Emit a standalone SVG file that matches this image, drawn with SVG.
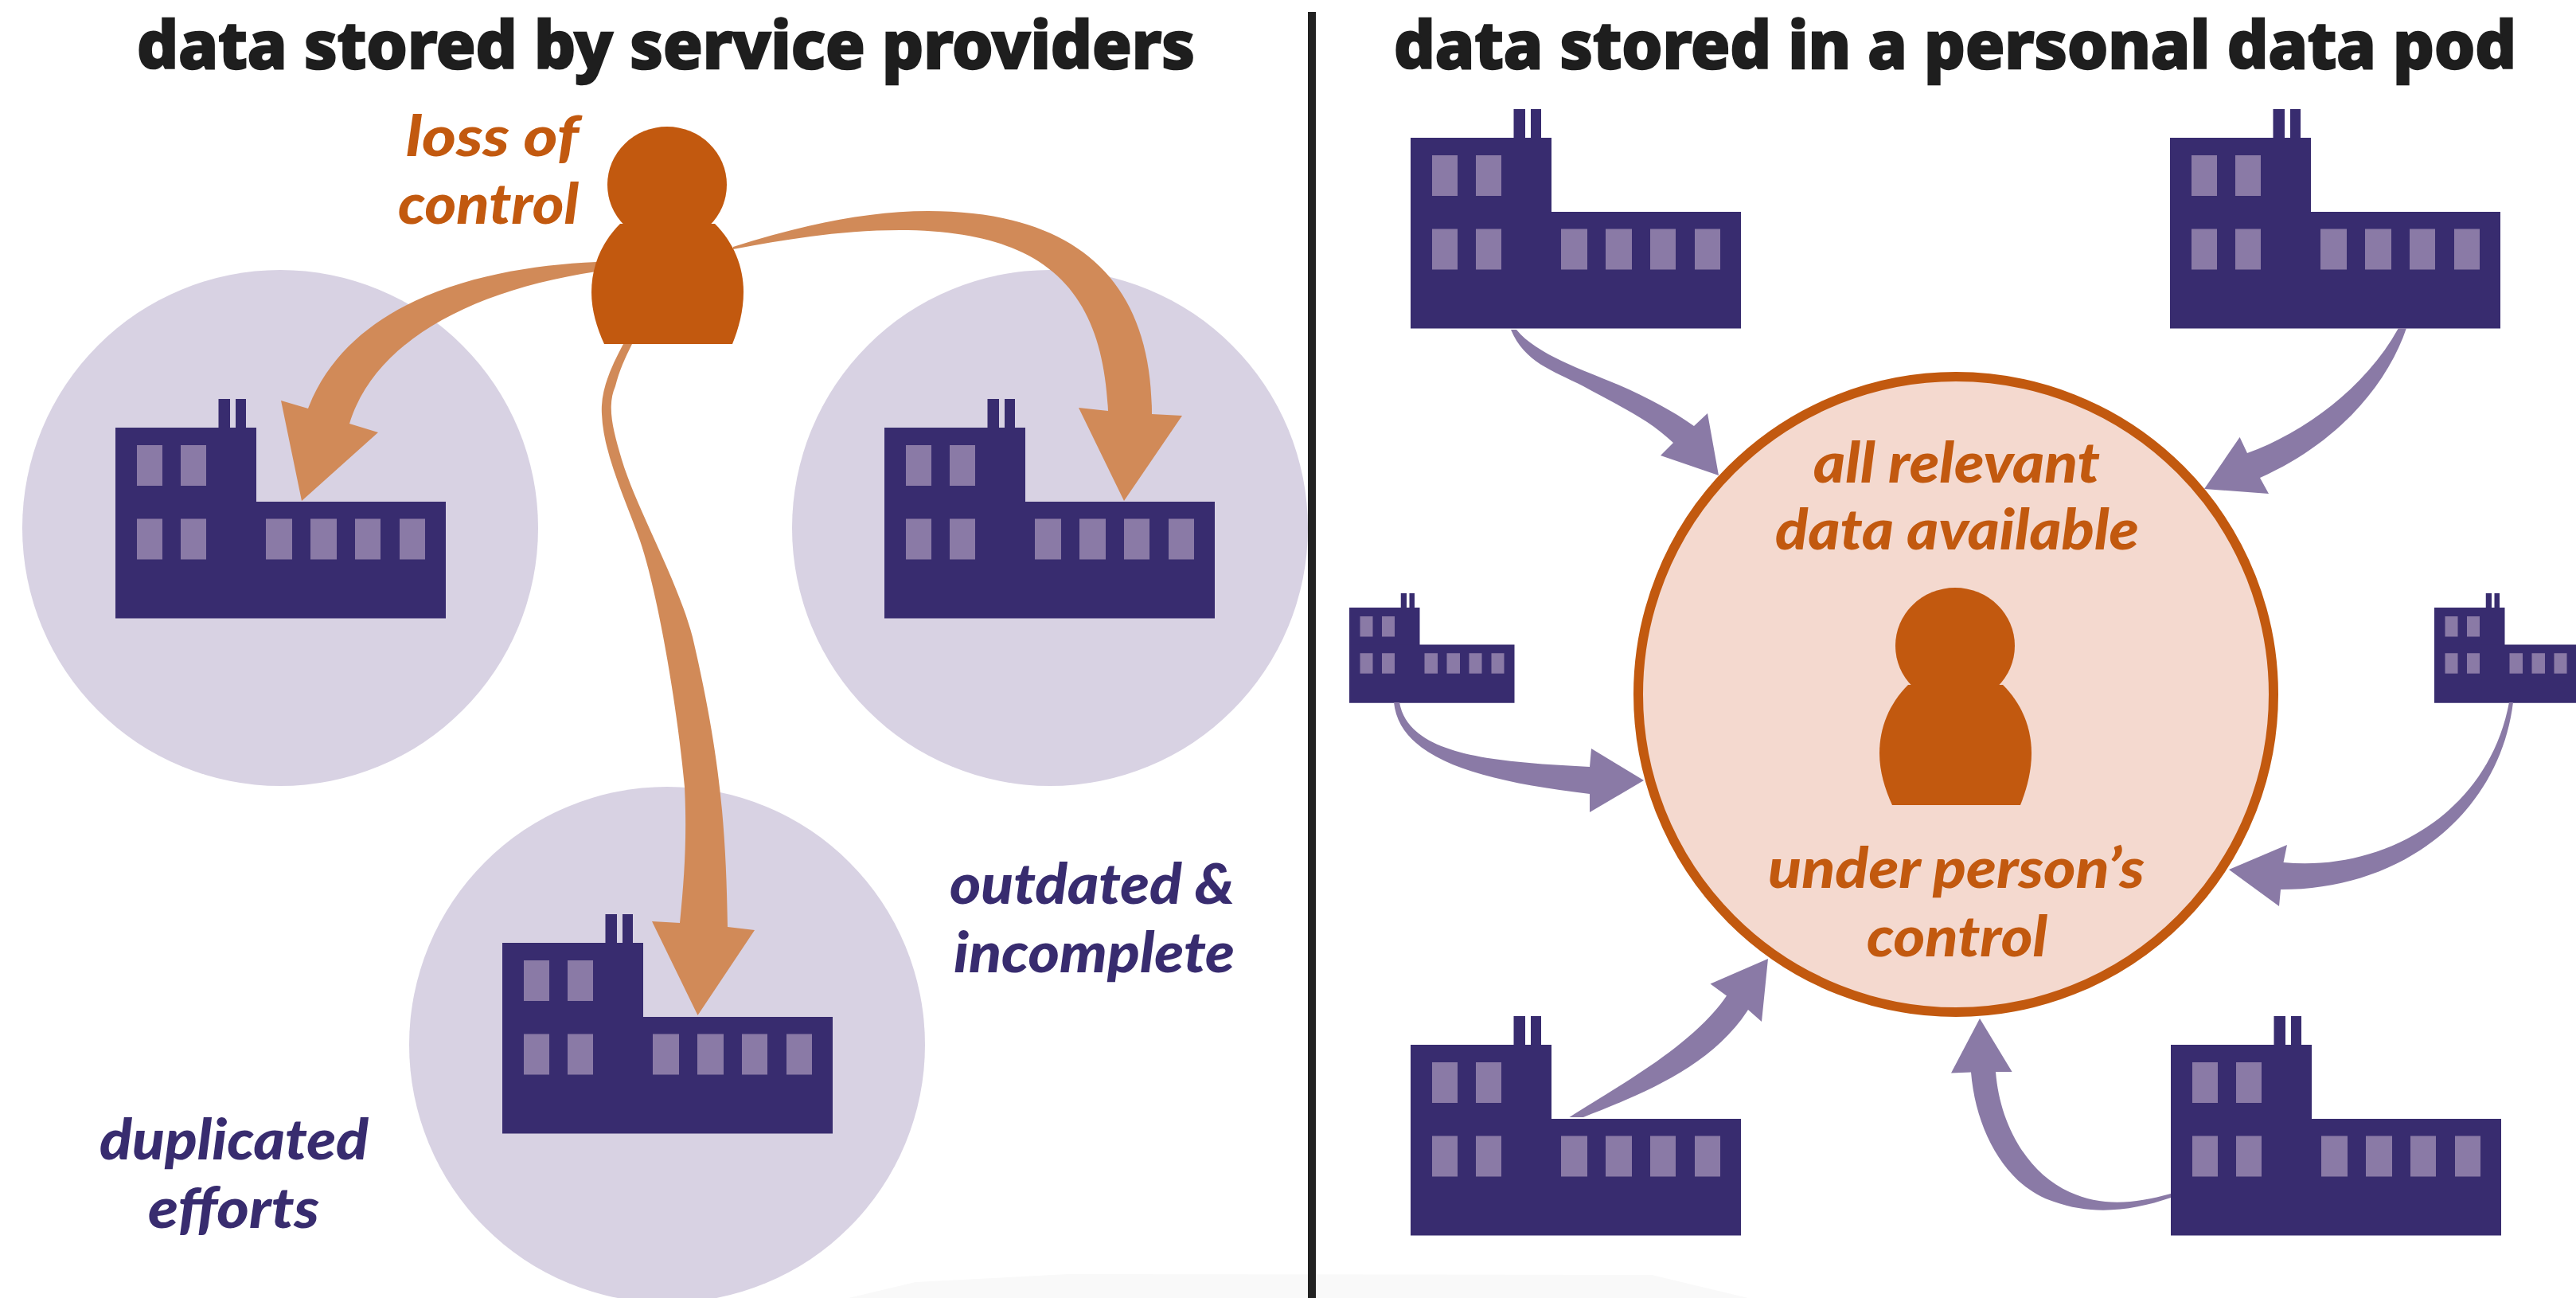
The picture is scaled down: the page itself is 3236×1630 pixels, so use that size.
<svg xmlns="http://www.w3.org/2000/svg" width="3236" height="1630" viewBox="0 0 3236 1630">
<style>
.title{font-family:"Noto Sans","Open Sans","Liberation Sans",sans-serif;font-weight:800;font-size:82px;fill:#1e1e1e;stroke:#1e1e1e;stroke-width:2.500px}
.lab{font-family:Lato,"Noto Sans","Liberation Sans",sans-serif;font-weight:900;font-style:italic;font-size:71px}
.or{fill:#c2590f}.pu{fill:#382c6f}
.halo{fill:#d8d2e3}
.oa{fill:#d18a58}.pa{fill:#8a7aa6}
.b{fill:#382c6f}.w{fill:#8a7aa6}
</style>
<defs>
<g id="factory">
<rect class="b" x="129.5" y="0" width="14.5" height="37"/>
<rect class="b" x="151" y="0" width="13" height="37"/>
<rect class="b" x="0" y="36" width="177" height="100"/>
<rect class="b" x="0" y="129" width="415" height="146.500"/>
<rect class="w" x="27" y="58" width="32" height="51"/>
<rect class="w" x="82" y="58" width="32" height="51"/>
<rect class="w" x="27" y="150.500" width="32" height="51"/>
<rect class="w" x="82" y="150.500" width="32" height="51"/>
<rect class="w" x="189" y="150.500" width="33" height="51"/>
<rect class="w" x="245" y="150.500" width="33" height="51"/>
<rect class="w" x="301" y="150.500" width="32" height="51"/>
<rect class="w" x="357" y="150.500" width="32" height="51"/>
</g>
<g id="person">
<ellipse class="or" cx="0" cy="73" rx="75" ry="73"/>
<path class="or" d="M-59,122 C-83,146 -95,176 -95,208 C-95,231 -88,253 -79,273 L82,273 C90,253 96,231 96,208 C96,176 84,146 60,122Z"/>
</g>
</defs>
<rect width="3236" height="1630" fill="#fff"/>
<path id="bottom-patch" d="M1066,1630 L1150,1610 L1342,1600 L2075,1601 L2196,1630Z" fill="#f9f9f9"/>
<rect id="divider" x="1643" y="15" width="10" height="1615" fill="#222"/>
<g id="title-left"><text class="title" x="172" y="86" textLength="1329" lengthAdjust="spacingAndGlyphs">data stored by service providers</text></g>
<g id="title-right"><text class="title" x="1751" y="86" textLength="1410" lengthAdjust="spacingAndGlyphs">data stored in a personal data pod</text></g>
<g id="provider-1"><circle class="halo" cx="352" cy="663" r="324"/><use href="#factory" transform="translate(145,501)"/></g>
<g id="provider-2"><circle class="halo" cx="1319" cy="663" r="324"/><use href="#factory" transform="translate(1111,501)"/></g>
<g id="provider-3"><circle class="halo" cx="838" cy="1312" r="324"/><use href="#factory" transform="translate(631,1148)"/></g>
<g id="pod"><circle cx="2457" cy="872" r="399" fill="#f4d9cf" stroke="#c2590f" stroke-width="12"/></g>
<g id="source-1"><use href="#factory" transform="translate(1772,137)"/></g>
<g id="source-2"><use href="#factory" transform="translate(2726,137)"/></g>
<g id="source-3"><use href="#factory" transform="translate(1695,745) scale(.5)"/></g>
<g id="source-4"><use href="#factory" transform="translate(3058,745) scale(.5)"/></g>
<g id="source-5"><use href="#factory" transform="translate(1772,1276)"/></g>
<g id="source-6"><use href="#factory" transform="translate(2727,1276)"/></g>
<g id="connectors">
<path class="oa" d="M921,310 C1010,282 1090,265 1166,265 C1350,265 1447,350 1447,520 L1485,522 L1412,629 L1355,512 L1392,516 C1385,370 1320,289 1130,289 C1060,289 990,300 921,313Z"/>
<path class="oa" d="M749,329 C610,335 440,375 387,513 L353,503 L379,629 L475,543 L439,532 C470,430 590,365 749,341Z"/>
<path class="oa" d="M783,432 C768,460 754,490 756,520 C758,570 785,625 804,679 C825,740 850,880 860,988 C863,1050 860,1100 854,1159 L819,1157 L876.500,1275 L948,1168 L914,1164 C912,1040 905,950 870,800 C850,725 800,640 781,577 C770,540 762,510 773,485 C778,465 785,450 794,432Z"/>
<path class="pa" d="M1905,414 C1930,445 1990,465 2030,482 C2065,497 2100,515 2128,535 L2145,519 L2159,597 L2086,572 L2102,556 C2070,525 2030,508 1989,485 C1950,465 1915,455 1898,414Z"/>
<path class="pa" d="M3023,412 C3000,480 2940,555 2839,600 L2850,620 L2769,614 L2813.600,549 L2823,569 C2890,545 2970,490 3013,412Z"/>
<path class="pa" d="M1751,882 C1758,950 1850,980 1997,997 L1997,1020 L2065,980 L1999,940 L1997,963 C1880,957 1770,950 1758,882Z"/>
<path class="pa" d="M3157,882 C3140,1020 3020,1117 2865,1117 L2863,1138 L2800,1092 L2873,1061 L2868.500,1083 C2990,1095 3125,1025 3152,882Z"/>
<path class="pa" d="M1971.500,1403 C2030,1365 2125,1315 2169,1250.500 L2148.500,1235.600 L2221,1204 L2213,1283 L2196,1268 C2150,1340 2060,1375 1989,1403Z"/>
<path class="pa" d="M2727,1499 C2680,1512 2640,1515 2600,1497 C2545,1472 2512,1410 2507,1346 L2527.600,1346 L2487,1279 L2451,1347.500 L2476,1346.500 C2482,1420 2520,1490 2580,1509 C2630,1527 2680,1520 2727,1504Z"/>
</g>
<g id="person-left"><use href="#person" transform="translate(838,159)"/></g>
<g id="person-pod"><use href="#person" transform="translate(2456,738)"/></g>
<g id="label-loss"><text class="lab or" x="510" y="196" textLength="217" lengthAdjust="spacingAndGlyphs">loss of</text><text class="lab or" x="500" y="281" textLength="227" lengthAdjust="spacingAndGlyphs">control</text></g>
<g id="label-outdated"><text class="lab pu" x="1193" y="1135" textLength="358" lengthAdjust="spacingAndGlyphs">outdated &amp;</text><text class="lab pu" x="1198" y="1221" textLength="353" lengthAdjust="spacingAndGlyphs">incomplete</text></g>
<g id="label-duplicated"><text class="lab pu" x="125" y="1456" textLength="338" lengthAdjust="spacingAndGlyphs">duplicated</text><text class="lab pu" x="186" y="1542" textLength="215" lengthAdjust="spacingAndGlyphs">efforts</text></g>
<g id="label-relevant"><text class="lab or" x="2278" y="606" textLength="360" lengthAdjust="spacingAndGlyphs">all relevant</text><text class="lab or" x="2230" y="690" textLength="457" lengthAdjust="spacingAndGlyphs">data available</text></g>
<g id="label-control"><text class="lab or" x="2221" y="1115" textLength="473" lengthAdjust="spacingAndGlyphs">under person’s</text><text class="lab or" x="2345" y="1201" textLength="227" lengthAdjust="spacingAndGlyphs">control</text></g>
</svg>
